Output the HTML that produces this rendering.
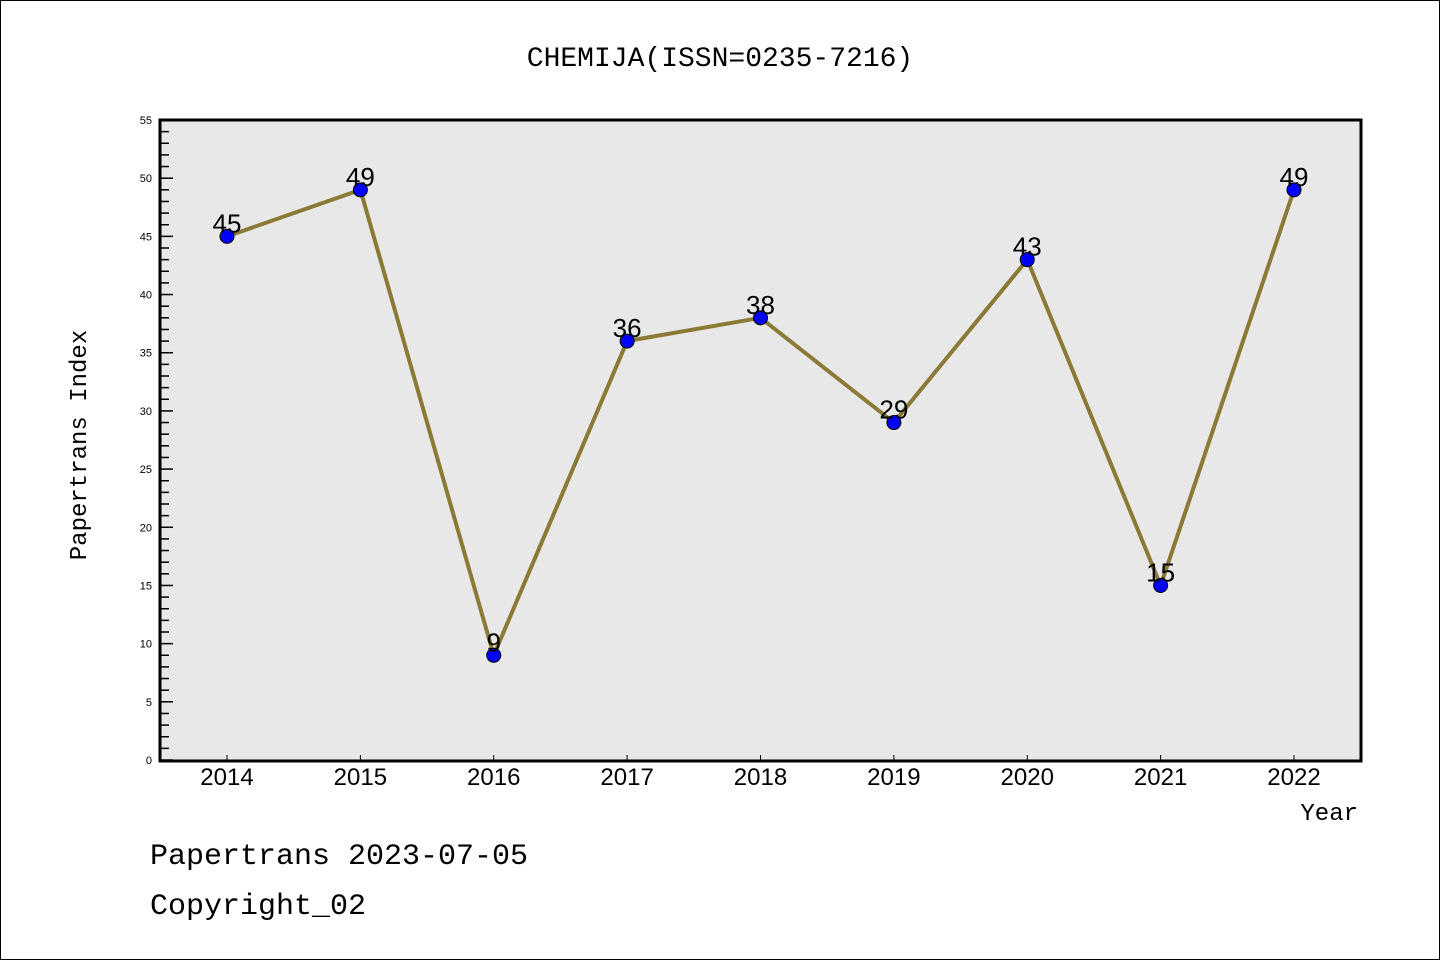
<!DOCTYPE html>
<html><head><meta charset="utf-8"><style>
body{margin:0;background:#fff;}
svg{display:block;font-family:"Liberation Sans","DejaVu Sans",sans-serif;}
</style></head><body>
<svg width="1440" height="960" xmlns="http://www.w3.org/2000/svg">
<rect x="0.5" y="0.5" width="1439" height="959" fill="#fff" stroke="#000"/>
<text x="720" y="66" text-anchor="middle" font-size="28" font-family="Liberation Mono, monospace">CHEMIJA(ISSN=0235-7216)</text>
<rect x="160" y="120" width="1201" height="641" fill="#e8e8e8"/>
<g id="yt"></g><g id="xt"></g>
<polyline id="line" fill="none" stroke="#8b7a35" stroke-width="4"/>
<g id="pts"></g>
<rect x="160" y="120" width="1201" height="641" fill="none" stroke="#000" stroke-width="3"/>
<text x="86" y="445" transform="rotate(-90 86 445)" text-anchor="middle" font-size="24" font-family="Liberation Mono, monospace">Papertrans Index</text>
<text x="1358" y="820" text-anchor="end" font-size="24" font-family="Liberation Mono, monospace">Year</text>
<text x="150" y="864" font-size="30" font-family="Liberation Mono, monospace">Papertrans 2023-07-05</text>
<text x="150" y="914" font-size="30" font-family="Liberation Mono, monospace">Copyright_02</text>
</svg>
<script>
const years=["2014","2015","2016","2017","2018","2019","2020","2021","2022"];
const values=[45,49,9,36,38,29,43,15,49];
const yTicks=[0,5,10,15,20,25,30,35,40,45,50,55];
const NS="http://www.w3.org/2000/svg";
const y=v=>760-v*640/55;
const x=i=>227+i*(1294-227)/(years.length-1);
function mk(t,a,p){const e=document.createElementNS(NS,t);for(const k in a)e.setAttribute(k,a[k]);p.appendChild(e);return e;}
const yt=document.getElementById('yt');
for(let v=0;v<=55;v++){const major=v%5===0;
 const l=mk('line',{x1:160,x2:major?173:169,y1:y(v),y2:y(v),stroke:'#000','stroke-width':1.5},yt);
 
 }
yTicks.forEach(v=>{const t=mk('text',{x:152,y:y(v)+4,'text-anchor':'end','font-size':11},yt);t.textContent=v;
 
 });
const xt=document.getElementById('xt');
years.forEach((yr,i)=>{mk('line',{x1:x(i),x2:x(i),y1:761,y2:755,stroke:'#000'},xt);
 const t=mk('text',{x:x(i),y:785,'text-anchor':'middle','font-size':24},xt);t.textContent=yr;
 
 });
document.getElementById('line').setAttribute('points',values.map((v,i)=>x(i)+','+y(v)).join(' '));
const pts=document.getElementById('pts');
values.forEach((v,i)=>{const c=mk('circle',{cx:x(i),cy:y(v),r:7,fill:'#0000ff',stroke:'#000','stroke-width':1},pts);
 
 
 const t=mk('text',{x:x(i),y:y(v)-4,'text-anchor':'middle','font-size':26},pts);t.textContent=v;
 
 });
</script>
</body></html>
